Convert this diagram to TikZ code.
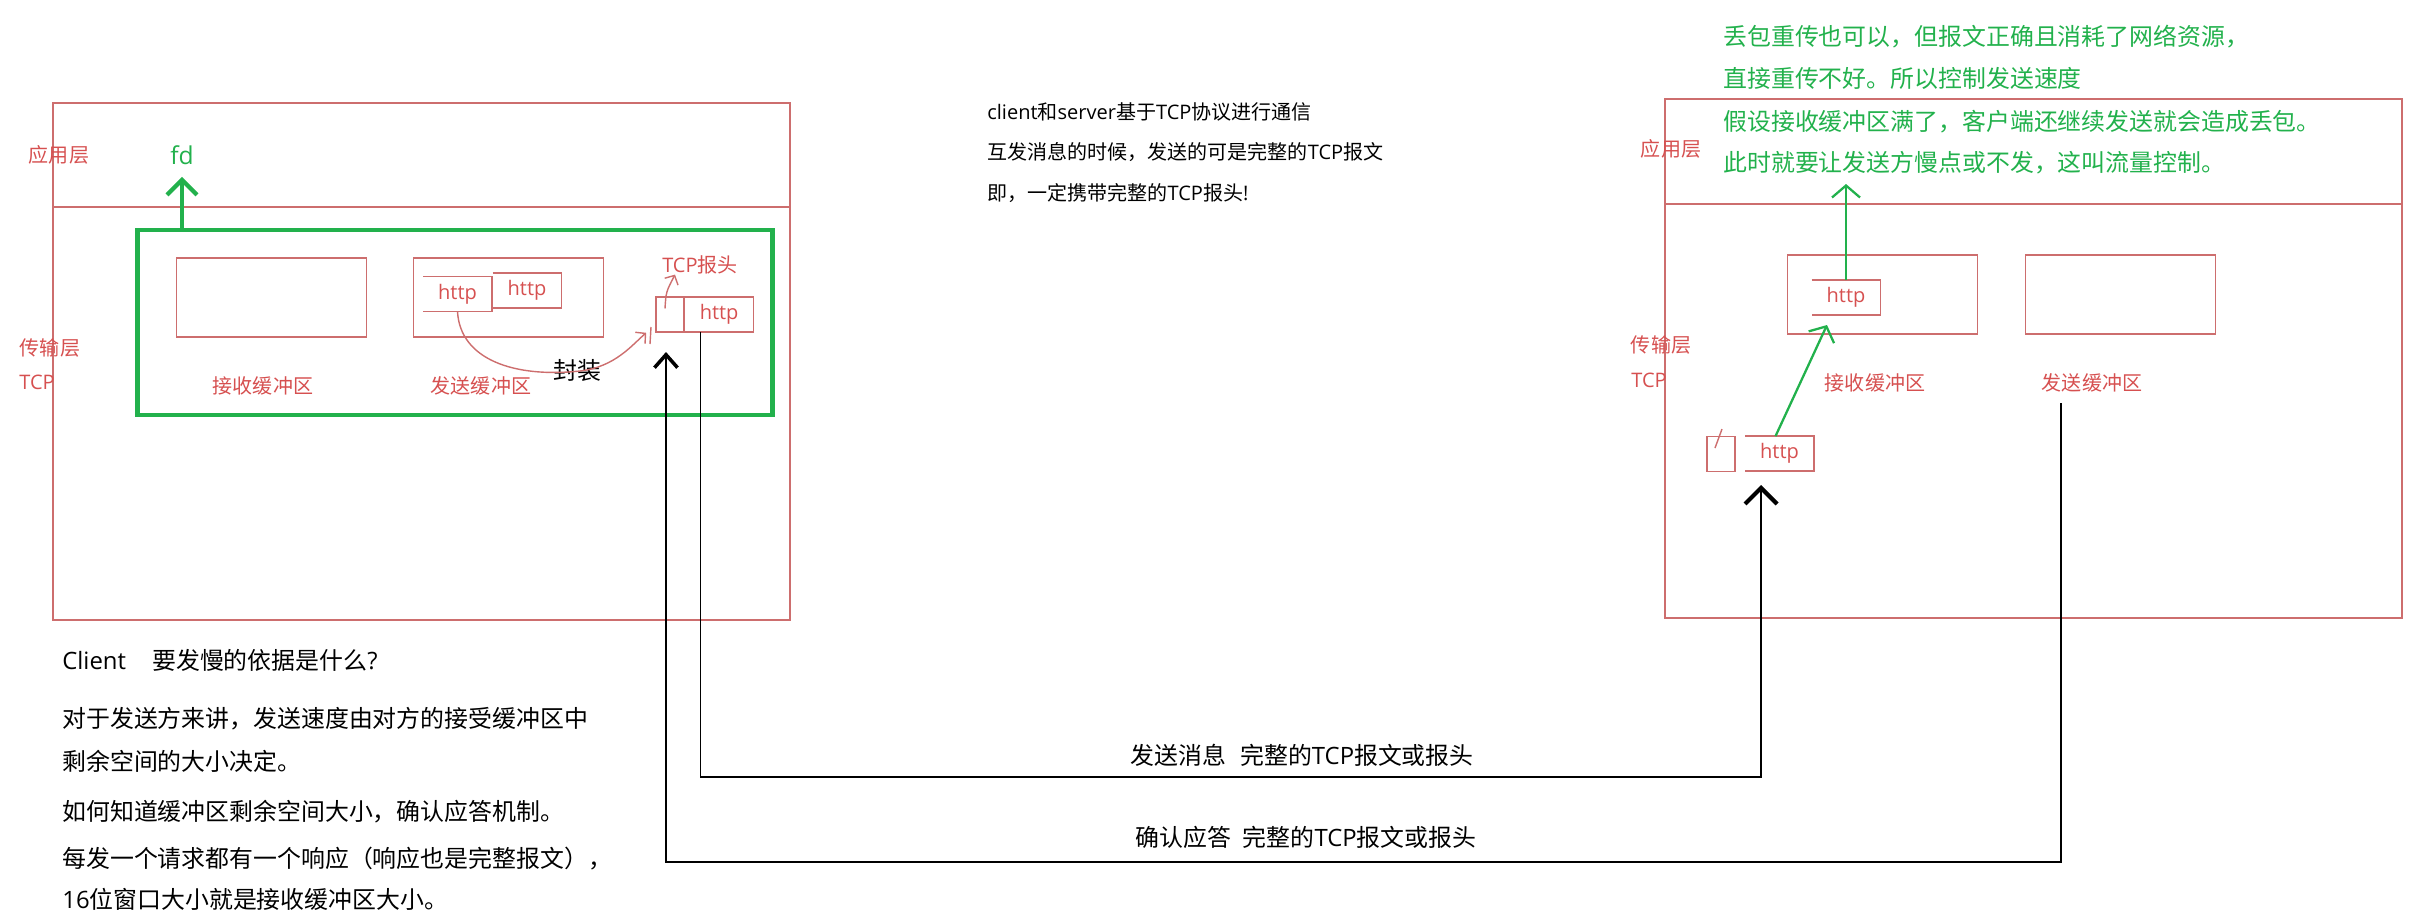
\documentclass[tikz,border=0pt]{standalone}
\usepackage{fontspec}
\setmainfont{Open Sans}
\newfontfamily\cjkfont{Noto Sans CJK SC}
\usetikzlibrary{arrows.meta, positioning}

\XeTeXinterchartokenstate=1
\newXeTeXintercharclass\cjkclass
\newcount\cjkcode
\def\cjkrange#1#2{\cjkcode=#1\relax
  \loop\XeTeXcharclass\cjkcode=\cjkclass
    \ifnum\cjkcode<#2\advance\cjkcode by 1\repeat}
\cjkrange{"3000}{"303F}
\cjkrange{"4E00}{"9FFF}
\cjkrange{"FF00}{"FFEF}
\XeTeXinterchartoks 0 \cjkclass={\begingroup\cjkfont}
\XeTeXinterchartoks 4095 \cjkclass={\begingroup\cjkfont}
\XeTeXinterchartoks \cjkclass 0={\endgroup}
\XeTeXinterchartoks \cjkclass 4095={\endgroup}

\definecolor{boxred}{RGB}{205,110,110}
\definecolor{txtred}{RGB}{214,80,80}
\definecolor{markgreen}{RGB}{34,177,76}

\begin{document}
\begin{tikzpicture}[
      x=0.02cm, y=-0.02cm,
      layer/.style={draw=boxred, line width=0.9pt},
      buffer/.style={rectangle, draw=boxred, line width=0.9pt, minimum width=3.8cm, minimum height=1.58cm, inner sep=0pt},
      packet/.style={rectangle, minimum width=1.36cm, minimum height=0.68cm, inner sep=0pt, text=txtred, font=\fontsize{11.4}{13}\selectfont},
      header/.style={rectangle, draw=boxred, line width=0.9pt, minimum width=0.56cm, minimum height=0.7cm, inner sep=0pt},
      redlabel/.style={text=txtred, font=\fontsize{11.4}{13}\selectfont, inner sep=0pt},
      note/.style={font=\fontsize{11.4}{13}\selectfont, inner sep=0pt, anchor=west},
      bignote/.style={font=\fontsize{13.6}{16}\selectfont, inner sep=0pt, anchor=west},
      tcpframe/.style={rectangle, draw=markgreen, line width=2.8pt, minimum width=12.72cm, minimum height=3.7cm, inner sep=0pt},
      fdarrow/.style={draw=markgreen, line width=2.8pt, -{Straight Barb[length=0.3cm, width=0.6cm, line width=2.4pt]}},
      uparrow/.style={draw=markgreen, line width=1.3pt, -{Straight Barb[length=0.24cm, width=0.56cm, line width=1.3pt]}},
      sendmsg/.style={line width=0.6pt, -{Straight Barb[length=0.32cm, width=0.64cm, line width=2.4pt]}},
      ackmsg/.style={line width=0.6pt, -{Straight Barb[length=0.26cm, width=0.46cm, line width=2pt]}},
      wrap/.style={draw=boxred, line width=0.8pt, -{Straight Barb[length=0.14cm, width=0.3cm]}}
    ]
    \useasboundingbox (0,0) rectangle (2431,920);

    \draw[layer] (53,103) rectangle (790,620);
    \draw[layer] (53,207) -- (790,207);
    \node[redlabel] (appL) at (59,155) {应用层};
    \node[redlabel] (transL) at (50,348) {传输层};
    \node[redlabel, anchor=west] (tcpL) at (19,382) {TCP};

    \node[tcpframe] (frameL) at (455,322.5) {};
    \node[text=markgreen, font=\fontsize{14}{16}\selectfont, inner sep=0pt] (fd) at (182,155) {fd};

    \node[buffer] (recvL) at (271.5,297.5) {};
    \node[buffer] (sendL) at (508.5,297.5) {};
    \node[redlabel] (recvLlbl) at (263,386) {接收缓冲区};
    \node[redlabel] (sendLlbl) at (481,386) {发送缓冲区};

    \node[packet] (hA) at (457.5,294) {http};
    \node[packet] (hB) at (527,290.5) {http};
    \node[header] (hdrL) at (670,314.5) {};
    \node[packet, right=0pt of hdrL] (hC) {http};
    \node[redlabel] (tcphead) at (700,265) {TCP报头};
    \node[font=\fontsize{13.6}{16}\selectfont, inner sep=0pt] (wrapL) at (577,370) {封装};

    \draw[layer] (1665,99) rectangle (2402,618);
    \draw[layer] (1665,204) -- (2402,204);
    \node[redlabel] (appR) at (1671,149) {应用层};
    \node[redlabel] (transR) at (1661,345) {传输层};
    \node[redlabel, anchor=west] (tcpR) at (1631,380) {TCP};

    \node[buffer] (recvR) at (1882.5,294.5) {};
    \node[buffer] (sendR) at (2120.5,294.5) {};
    \node[redlabel] (recvRlbl) at (1875,383) {接收缓冲区};
    \node[redlabel] (sendRlbl) at (2092,383) {发送缓冲区};

    \node[packet] (hD) at (1846,297.5) {http};
    \node[header] (hdrR) at (1721,454) {};
    \node[packet] (hE) at (1779.5,453.5) {http};

    \foreach \p in {hA,hB,hC,hD,hE}
      \draw[boxred, line width=0.9pt] (\p.north west) -- (\p.north east) -- (\p.south east) -- (\p.south west);
    \draw[boxred, line width=0.8pt] (1715,448) -- (1722,429);
    \draw[boxred, line width=0.8pt] (651,327) -- (650,344);

    \node[bignote, text=markgreen] (g1) at (1723,37) {丢包重传也可以，但报文正确且消耗了网络资源，};
    \node[bignote, text=markgreen] (g2) at (1723,78) {直接重传不好。所以控制发送速度};
    \node[bignote, text=markgreen] (g3) at (1723,122) {假设接收缓冲区满了，客户端还继续发送就会造成丢包。};
    \node[bignote, text=markgreen] (g4) at (1723,163) {此时就要让发送方慢点或不发，这叫流量控制。};

    \node[note] (m1) at (987,112) {client和server基于TCP协议进行通信};
    \node[note] (m2) at (987,152) {互发消息的时候，发送的可是完整的TCP报文};
    \node[note] (m3) at (987,193) {即，一定携带完整的TCP报头!};

    \node[bignote] (q1) at (62,660) {Client\hspace{1.1em}要发慢的依据是什么?};
    \node[bignote] (q2) at (62,719) {对于发送方来讲，发送速度由对方的接受缓冲区中};
    \node[bignote] (q3) at (62,761) {剩余空间的大小决定。};
    \node[bignote] (q4) at (62,812) {如何知道缓冲区剩余空间大小，确认应答机制。};
    \node[bignote] (q5) at (62,859) {每发一个请求都有一个响应（响应也是完整报文），};
    \node[bignote] (q6) at (62,899) {16位窗口大小就是接收缓冲区大小。};

    \node[bignote] (sendlbl) at (1130,755) {发送消息\hspace{0.6em}完整的TCP报文或报头};
    \node[bignote] (acklbl) at (1135,837) {确认应答\hspace{0.5em}完整的TCP报文或报头};

    \coordinate (sendlow) at (1761,777);
    \coordinate (sendtip) at (1761,485);
    \coordinate (ackfrom) at (2061,403);
    \coordinate (acklow) at (666,862);
    \coordinate (acktip) at (666,352);
    \coordinate (apptip) at (1846,184);
    \coordinate (uptip) at (1827,325);

    \draw[fdarrow] (frameL.north -| fd) -- ([yshift=-0.24cm]fd.south);
    \draw[wrap] (hA.south) .. controls (460,360) and (515,378) .. (580,371) .. controls (615,367) and (632,345) .. ([xshift=-0.18cm]hdrL.south west);
    \draw[wrap] ([xshift=-0.1cm, yshift=0.12cm]hdrL.center) .. controls (666,292) .. ([xshift=-0.5cm]tcphead.south);
    \draw[sendmsg] ([xshift=-0.37cm]hC.south) |- (sendlow) -- (sendtip);
    \draw[ackmsg] (ackfrom) |- (acklow) -- (acktip);
    \draw[uparrow] (hE.north) ++(-4,0) -- (uptip);
    \draw[uparrow] (hD.north) -- (apptip);
  \end{tikzpicture}
\end{document}
